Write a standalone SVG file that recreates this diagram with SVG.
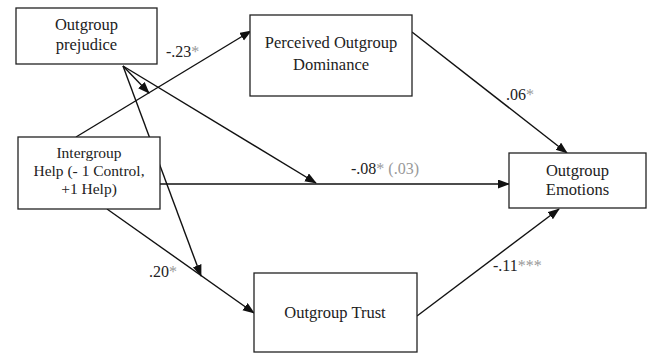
<svg xmlns="http://www.w3.org/2000/svg" width="647" height="354" viewBox="0 0 647 354" font-family="'Liberation Serif', 'Times New Roman', Times, serif">
<style>
.box{fill:#fff;stroke:#222;stroke-width:1.3}
.t{font-size:16.5px;fill:#222;text-anchor:middle}
.s{font-size:15.5px}
.l{font-size:16px;fill:#222}
.g{fill:#999}
.c{stroke:#111;stroke-width:1.4;fill:none;marker-end:url(#ah)}
</style>
<defs>
<marker id="ah" markerUnits="userSpaceOnUse" markerWidth="12" markerHeight="10" refX="11" refY="4.5" orient="auto">
<path d="M0,0 L12,4.5 L0,9 z" fill="#111"/>
</marker>
</defs>
<rect width="647" height="354" fill="#fff"/>
<g id="connectors">
<line class="c" x1="76" y1="137" x2="251" y2="31"/>
<line class="c" x1="123" y1="66" x2="149" y2="93"/>
<line class="c" x1="123" y1="66" x2="316" y2="183"/>
<line class="c" x1="123" y1="66" x2="201" y2="276"/>
<line class="c" x1="160" y1="184" x2="509" y2="184"/>
<line class="c" x1="107" y1="209" x2="254" y2="313"/>
<line class="c" x1="412" y1="32" x2="567" y2="153"/>
<line class="c" x1="417" y1="316" x2="559" y2="209"/>
</g>
<g id="labels">
<text class="l" x="166" y="57">-.23<tspan class="g">*</tspan></text>
<text class="l" x="506" y="100">.06<tspan class="g">*</tspan></text>
<text class="l" x="351" y="174">-.08<tspan class="g">* (.03)</tspan></text>
<text class="l" x="149" y="277">.20<tspan class="g">*</tspan></text>
<text class="l" x="493" y="271">-.11<tspan class="g">***</tspan></text>
</g>
<g id="prejudice">
<rect class="box" x="16" y="8" width="141" height="56"/>
<text class="t" x="86.5" y="30">Outgroup</text>
<text class="t" x="86.5" y="50">prejudice</text>
</g>
<g id="dominance">
<rect class="box" x="250" y="15" width="162" height="81"/>
<text class="t" x="331" y="48">Perceived Outgroup</text>
<text class="t" x="331" y="70">Dominance</text>
</g>
<g id="help">
<rect class="box" x="18" y="137" width="142" height="72"/>
<text class="t s" x="89" y="158">Intergroup</text>
<text class="t s" x="89" y="176">Help (- 1 Control,</text>
<text class="t s" x="89" y="194">+1 Help)</text>
</g>
<g id="trust">
<rect class="box" x="254" y="273" width="163" height="79"/>
<text class="t" x="335" y="318">Outgroup Trust</text>
</g>
<g id="emotions">
<rect class="box" x="509" y="153" width="137" height="55"/>
<text class="t" x="577.5" y="176">Outgroup</text>
<text class="t" x="577.5" y="195">Emotions</text>
</g>
</svg>
